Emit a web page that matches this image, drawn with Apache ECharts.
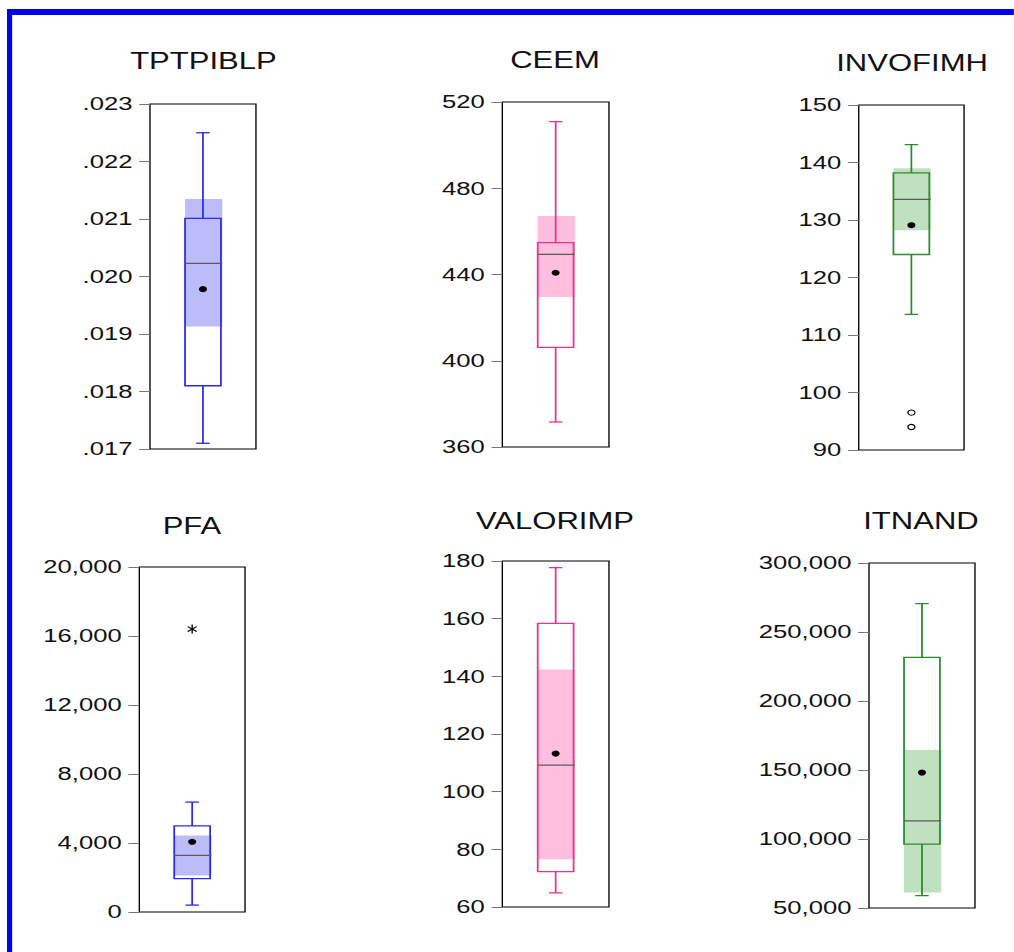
<!DOCTYPE html>
<html>
<head>
<meta charset="utf-8">
<script src="https://cdn.jsdelivr.net/npm/echarts@6/dist/echarts.min.js"></script>
<style>
  html, body { margin: 0; padding: 0; background: #fff; overflow: hidden; }
  /* the original picture is stretched sideways, so draw narrow and scale */
  #main { width: 751px; height: 952px; transform: scaleX(1.35); transform-origin: 0 0; }
</style>
</head>
<body>
<div id="main"></div>
<script>
// one entry per panel, in reading order
var titles = ['TPTPIBLP', 'CEEM', 'INVOFIMH', 'PFA', 'VALORIMP', 'ITNAND'];
var whiskerLow  = [0.0171, 371.6, 113.6, 400, 64.9, 58900];
var q1          = [0.0181, 406.2, 124.0, 1930, 72.3, 96300];
var median      = [0.02023, 449.3, 133.6, 3280, 109.2, 113100];
var q3          = [0.02101, 454.8, 138.2, 4990, 158.4, 231600];
var whiskerHigh = [0.0225, 510.9, 143.1, 6370, 177.7, 270600];
var mean        = [0.01978, 440.8, 129.1, 4070, 113.2, 148100];
var shadeLow    = [0.01913, 429.6, 128.2, 2120, 76.6, 61300];
var shadeHigh   = [0.02135, 467.1, 139.0, 4430, 142.4, 164500];
var nearOutliers = [[], [], [96.5, 94.0], [], [], []];
var farOutliers  = [[], [], [], [16400], [], []];
// axis ticks
var yMin  = [0.017, 360, 90, 0, 60, 50000];
var yMax  = [0.023, 520, 150, 20000, 180, 300000];
var yStep = [0.001, 40, 10, 4000, 20, 50000];

var lineColors  = ['#2a2af0', '#f0308a', '#2a8c2a', '#2a2af0', '#f0308a', '#2a8c2a'];
var shadeColors = ['#bcbcf8', '#ffbedd', '#c0e1c0', '#bcbcf8', '#ffbedd', '#c0e1c0'];

// panel frames (chart units, x already divided by the stretch)
var gridPos = [
  {left: 111.1, top: 104, width: 78.5, height: 345},
  {left: 372.1, top: 102, width: 79, height: 345},
  {left: 636.1, top: 105, width: 78, height: 345},
  {left: 103.2, top: 567, width: 78.3, height: 345},
  {left: 372.1, top: 561, width: 79, height: 346},
  {left: 643.7, top: 563, width: 78.5, height: 345}
];
var titlePos = [[150.7, 61], [411.1, 60], [675.6, 63], [142.2, 526], [411.1, 521], [682.2, 521]];

var FONT = '"Liberation Sans", Arial, sans-serif';

function tickFormatter(i) {
  return function (v) {
    if (i === 0) return v.toFixed(3).replace(/^0/, '');
    if (i === 3 || i === 5) return Math.round(v).toLocaleString('en-US');
    return String(Math.round(v));
  };
}

function makeBoxRenderer(i) {
  return function (params, api) {
    var x = api.value(0);
    var c = function (v) { return api.coord([x, v]); };
    var pLo = c(api.value(1)), pQ1 = c(api.value(2)), pMed = c(api.value(3));
    var pQ3 = c(api.value(4)), pHi = c(api.value(5)), pMean = c(api.value(6));
    var pSl = c(api.value(7)), pSh = c(api.value(8));
    var cx = pQ1[0];
    var hw = 13.3, cap = 5;
    var ls = {stroke: lineColors[i], lineWidth: 1.3, fill: null};
    return {
      type: 'group',
      children: [
        {type: 'rect', shape: {x: cx - hw, y: pSh[1], width: 2 * hw + 1, height: pSl[1] - pSh[1]},
         style: {fill: shadeColors[i]}},
        {type: 'rect', shape: {x: cx - hw, y: pQ3[1], width: 2 * hw, height: pQ1[1] - pQ3[1]}, style: ls},
        {type: 'line', shape: {x1: cx, y1: pQ3[1], x2: cx, y2: pHi[1]}, style: ls},
        {type: 'line', shape: {x1: cx, y1: pQ1[1], x2: cx, y2: pLo[1]}, style: ls},
        {type: 'line', shape: {x1: cx - cap, y1: pHi[1], x2: cx + cap, y2: pHi[1]}, style: ls},
        {type: 'line', shape: {x1: cx - cap, y1: pLo[1], x2: cx + cap, y2: pLo[1]}, style: ls},
        {type: 'line', shape: {x1: cx - hw, y1: pMed[1], x2: cx + hw + 1, y2: pMed[1]},
         style: {stroke: '#5a5a5a', lineWidth: 1.3}},
        {type: 'circle', shape: {cx: cx, cy: pMean[1], r: 3}, style: {fill: '#000'}}
      ]
    };
  };
}

function renderOutlier(params, api) {
  var p = api.coord([api.value(0), api.value(1)]);
  if (api.value(2) === 1) {
    var r = 4.5;
    return {type: 'group', children: [
      {type: 'line', shape: {x1: p[0], y1: p[1] - r, x2: p[0], y2: p[1] + r}, style: {stroke: '#000', lineWidth: 1}},
      {type: 'line', shape: {x1: p[0] - 3.3, y1: p[1] - 2.4, x2: p[0] + 3.3, y2: p[1] + 2.4}, style: {stroke: '#000', lineWidth: 1}},
      {type: 'line', shape: {x1: p[0] - 3.3, y1: p[1] + 2.4, x2: p[0] + 3.3, y2: p[1] - 2.4}, style: {stroke: '#000', lineWidth: 1}}
    ]};
  }
  return {type: 'circle', shape: {cx: p[0], cy: p[1], r: 2.6}, style: {fill: '#fff', stroke: '#000', lineWidth: 1}};
}

var chartDom = document.getElementById('main');
var myChart = echarts.init(chartDom, null, {renderer: 'svg'});

var grids = [], xAxes = [], yAxes = [], series = [], graphics = [];

// blue frame round the whole picture
graphics.push({type: 'rect', shape: {x: 5.2, y: 9, width: 760, height: 6}, style: {fill: '#0000ee'}});
graphics.push({type: 'rect', shape: {x: 5.2, y: 9, width: 3.8, height: 950}, style: {fill: '#0000ee'}});

for (var i = 0; i < titles.length; i++) {
  grids.push({
    left: gridPos[i].left, top: gridPos[i].top, width: gridPos[i].width, height: gridPos[i].height,
    show: true, borderColor: '#000', borderWidth: 1, backgroundColor: '#fff'
  });
  xAxes.push({
    type: 'category', gridIndex: i, data: [titles[i]],
    axisLine: {show: false}, axisTick: {show: false}, axisLabel: {show: false}
  });
  yAxes.push({
    type: 'value', gridIndex: i, min: yMin[i], max: yMax[i], interval: yStep[i],
    axisLine: {show: false},
    axisTick: {show: true, length: 8, lineStyle: {color: '#777', width: 1}},
    splitLine: {show: false},
    axisLabel: {margin: 13, fontSize: 19, color: '#111', fontFamily: FONT, formatter: tickFormatter(i)}
  });
  series.push({
    type: 'custom', xAxisIndex: i, yAxisIndex: i, renderItem: makeBoxRenderer(i),
    data: [[0, whiskerLow[i], q1[i], median[i], q3[i], whiskerHigh[i], mean[i], shadeLow[i], shadeHigh[i]]],
    z: 3
  });
  var pts = [];
  nearOutliers[i].forEach(function (v) { pts.push([0, v, 0]); });
  farOutliers[i].forEach(function (v) { pts.push([0, v, 1]); });
  if (pts.length) {
    series.push({type: 'custom', xAxisIndex: i, yAxisIndex: i, renderItem: renderOutlier, data: pts, z: 4});
  }
  graphics.push({
    type: 'text', x: titlePos[i][0], y: titlePos[i][1],
    style: {text: titles[i], fill: '#111', font: '23px ' + FONT, align: 'center', verticalAlign: 'middle'}
  });
}

var option = {
  animation: false,
  backgroundColor: '#fff',
  grid: grids,
  xAxis: xAxes,
  yAxis: yAxes,
  series: series,
  graphic: graphics
};

option && myChart.setOption(option);
</script>
</body>
</html>
